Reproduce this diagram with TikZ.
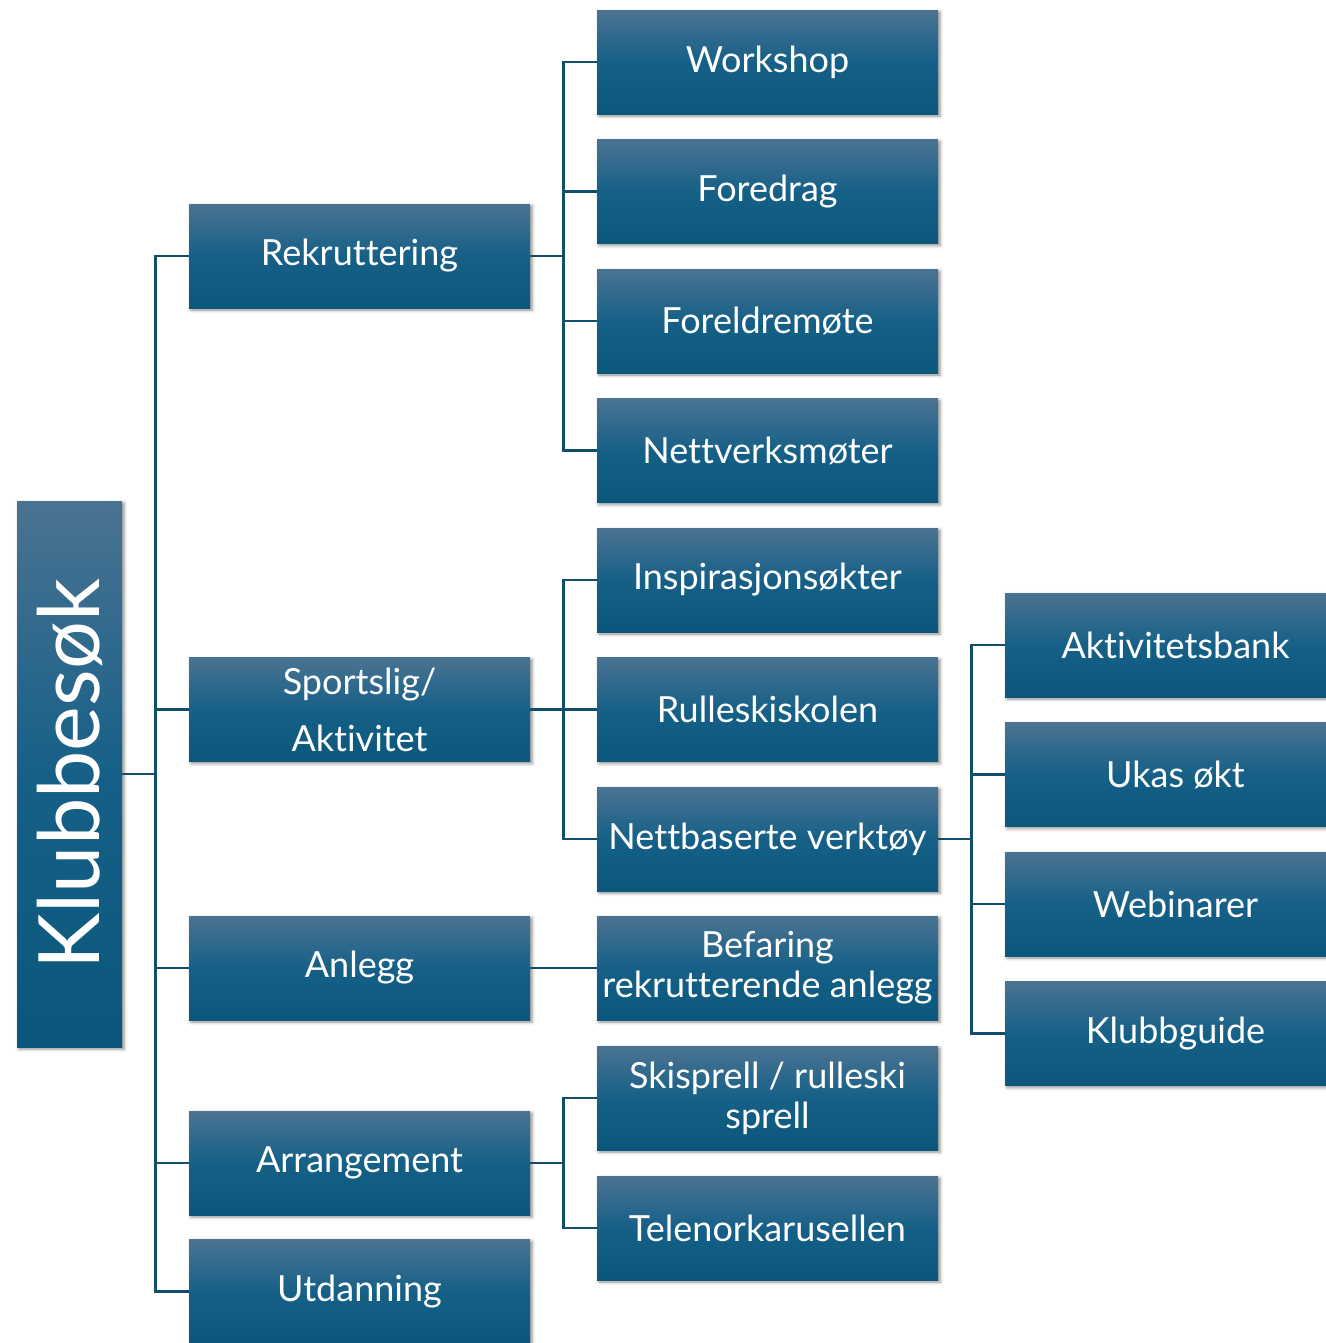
\documentclass[tikz,border=0pt]{standalone}
\usepackage{fontspec}
\setmainfont{Lato}[Ligatures=NoCommon]
\usetikzlibrary{shadows.blur}
\definecolor{boxtop}{RGB}{75,115,146}
\definecolor{boxmid}{RGB}{22,96,135}
\definecolor{boxbot}{RGB}{11,87,123}
\definecolor{conncol}{RGB}{16,78,108}
\tikzset{
  box/.style={rectangle, minimum width=255.75pt, minimum height=78pt, inner sep=0pt,
    top color=boxtop, bottom color=boxbot, middle color=boxmid, draw=none,
    text=white, font=\fontsize{27}{30}\selectfont, align=center,
    blur shadow={shadow xshift=1.5pt, shadow yshift=-1.5pt, shadow blur radius=2.5pt, shadow opacity=45}},
  conn/.style={draw=conncol, line width=2.2pt}
}
\begin{document}
\begin{tikzpicture}[x=0.75pt,y=-0.75pt]
\useasboundingbox (0,0) rectangle (1326,1343);
% root
\node[box, minimum width=409.5pt, minimum height=78.75pt, rotate=90, font=\fontsize{63.5}{70}\selectfont] (root) at (69.5,774) {Klubbesøk};
% level 1
\node[box] (rek) at (359.5,256) {Rekruttering};
\node[box] (spo) at (359.5,709.5) {Sportslig/\\[12.75pt]Aktivitet};
\node[box] (anl) at (359.5,968) {Anlegg};
\node[box] (arr) at (359.5,1163) {Arrangement};
\node[box] (utd) at (359.5,1291.5) {Utdanning};
% level 2
\node[box] (ws) at (767.5,62) {Workshop};
\node[box] (fo) at (767.5,191.5) {Foredrag};
\node[box] (fm) at (767.5,321) {Foreldremøte};
\node[box] (nm) at (767.5,450.5) {Nettverksmøter};
\node[box] (ins) at (767.5,580) {Inspirasjonsøkter};
\node[box] (rul) at (767.5,709.5) {Rulleskiskolen};
\node[box] (net) at (767.5,839) {Nettbaserte verktøy};
\node[box] (bef) at (767.5,968) {Befaring\\rekrutterende anlegg};
\node[box] (ski) at (767.5,1098) {Skisprell / rulleski\\sprell};
\node[box] (tel) at (767.5,1228) {Telenorkarusellen};
% level 3
\node[box] (akt) at (1175.5,645) {Aktivitetsbank};
\node[box] (uka) at (1175.5,774.5) {Ukas økt};
\node[box] (web) at (1175.5,904) {Webinarer};
\node[box] (klu) at (1175.5,1033.5) {Klubbguide};
% connectors
\foreach \t in {rek,spo,anl,arr,utd}
  \draw[conn] (root.south) -- ++(33,0) |- (\t.west);
\foreach \t in {ws,fo,fm,nm}
  \draw[conn] (rek.east) -- ++(33,0) |- (\t.west);
\foreach \t in {ins,rul,net}
  \draw[conn] (spo.east) -- ++(33,0) |- (\t.west);
\draw[conn] (anl.east) -- (bef.west);
\foreach \t in {ski,tel}
  \draw[conn] (arr.east) -- ++(33,0) |- (\t.west);
\foreach \t in {akt,uka,web,klu}
  \draw[conn] (net.east) -- ++(33,0) |- (\t.west);
\end{tikzpicture}
\end{document}
